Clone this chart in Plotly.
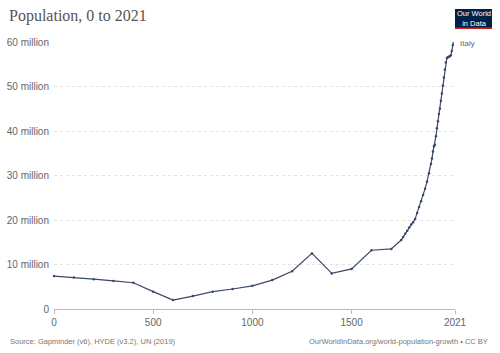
import plotly.graph_objects as go

years = [0, 100, 200, 300, 400, 500, 600, 700, 800, 900, 1000, 1100, 1200, 1300, 1400, 1500, 1600, 1700,
         1750, 1760, 1770, 1780, 1790, 1800, 1810, 1820, 1830, 1840, 1850, 1860, 1870, 1880, 1890, 1900,
         1905, 1910, 1915, 1920, 1925, 1930, 1935, 1940, 1945, 1950, 1955, 1960, 1965, 1970, 1975, 1980,
         1985, 1990, 1995, 2000, 2005, 2010, 2015, 2021]
population_m = [7.4, 7.1, 6.7, 6.3, 5.9, 3.9, 2.0, 2.9, 3.9, 4.5, 5.2, 6.5, 8.5, 12.5, 8.0, 9.0, 13.2, 13.5,
                15.5, 16.2, 16.9, 17.6, 18.3, 19.0, 19.5, 20.2, 21.6, 22.9, 24.2, 25.6, 27.0, 28.6, 30.5, 32.6,
                33.8, 35.4, 36.6, 36.9, 38.8, 40.6, 42.2, 43.8, 45.0, 46.8, 48.4, 50.2, 52.0, 53.8, 55.4, 56.4,
                56.6, 56.7, 56.8, 57.0, 58.0, 59.3, 60.6, 60.4]
population = [v * 1e6 for v in population_m]

y_ticks = [0, 10e6, 20e6, 30e6, 40e6, 50e6, 60e6]
y_tick_labels = ["0", "10 million", "20 million", "30 million", "40 million", "50 million", "60 million"]
x_ticks = [0, 500, 1000, 1500, 2021]
x_tick_labels = ["0", "500", "1000", "1500", "2021"]

line_color = "#3b4a66"
sans = "Liberation Sans, Arial, sans-serif"

W, H = 500, 353
L, R, T, B = 54, 45, 42, 44
pw = W - L - R
ph = H - T - B


def px_x(p):
    return (p - L) / pw


def px_y(p):
    return (H - B - p) / ph


fig = go.Figure()
fig.add_trace(go.Scatter(
    x=years, y=population, mode="lines+markers",
    line=dict(color=line_color, width=1.2),
    marker=dict(color=line_color, size=2.5),
    cliponaxis=False, hoverinfo="skip", showlegend=False,
))

fig.update_layout(
    width=W, height=H,
    margin=dict(l=L, r=R, t=T, b=B),
    paper_bgcolor="white", plot_bgcolor="white",
    font=dict(family=sans, color="#666", size=10),
    xaxis=dict(range=[0, 2021], tickvals=x_ticks, ticktext=x_tick_labels, automargin=False,
               showgrid=False, zeroline=False, showline=True, linecolor="#bbb", linewidth=1,
               ticks="outside", ticklen=4, tickcolor="#bbb", tickfont=dict(size=10, color="#666")),
    yaxis=dict(range=[0, 60e6], tickvals=y_ticks, ticktext=y_tick_labels, automargin=False,
               showgrid=True, gridcolor="#e2e2e2", griddash="dot", gridwidth=1,
               zeroline=False, showline=False, ticks="", ticklabelstandoff=4,
               tickfont=dict(size=10, color="#666")),
    annotations=[
        dict(text="Population, 0 to 2021", xref="paper", yref="paper", x=px_x(7), y=px_y(16),
             xanchor="left", yanchor="middle", showarrow=False,
             font=dict(family="Liberation Serif, serif", size=16, color="#555")),
        dict(text="Italy", xref="paper", yref="paper", x=px_x(458), y=px_y(43),
             xanchor="left", yanchor="middle", showarrow=False, font=dict(family=sans, size=8, color="#666")),
        dict(text="Source: Gapminder (v6), HYDE (v3.2), UN (2019)", xref="paper", yref="paper",
             x=px_x(8), y=px_y(341), xanchor="left", yanchor="middle", showarrow=False,
             font=dict(family=sans, size=7.5, color="#777")),
        dict(text="OurWorldInData.org/world-population-growth • CC BY", xref="paper", yref="paper",
             x=px_x(490), y=px_y(341), xanchor="right", yanchor="middle", showarrow=False,
             font=dict(family=sans, size=7.5, color="#777")),
        dict(text="Our World<br>in Data", xref="paper", yref="paper", x=px_x(473.5), y=px_y(18.5),
             xanchor="center", yanchor="middle", showarrow=False,
             font=dict(family=sans, size=7.5, color="white"), align="center"),
    ],
    shapes=[
        dict(type="rect", xref="paper", yref="paper", x0=px_x(455), x1=px_x(492), y0=px_y(29), y1=px_y(9),
             fillcolor="#002147", line=dict(width=0), layer="below"),
        dict(type="rect", xref="paper", yref="paper", x0=px_x(455), x1=px_x(492), y0=px_y(29), y1=px_y(27.5),
             fillcolor="#ce261e", line=dict(width=0), layer="below"),
    ],
)

fig.write_html("out.html")
